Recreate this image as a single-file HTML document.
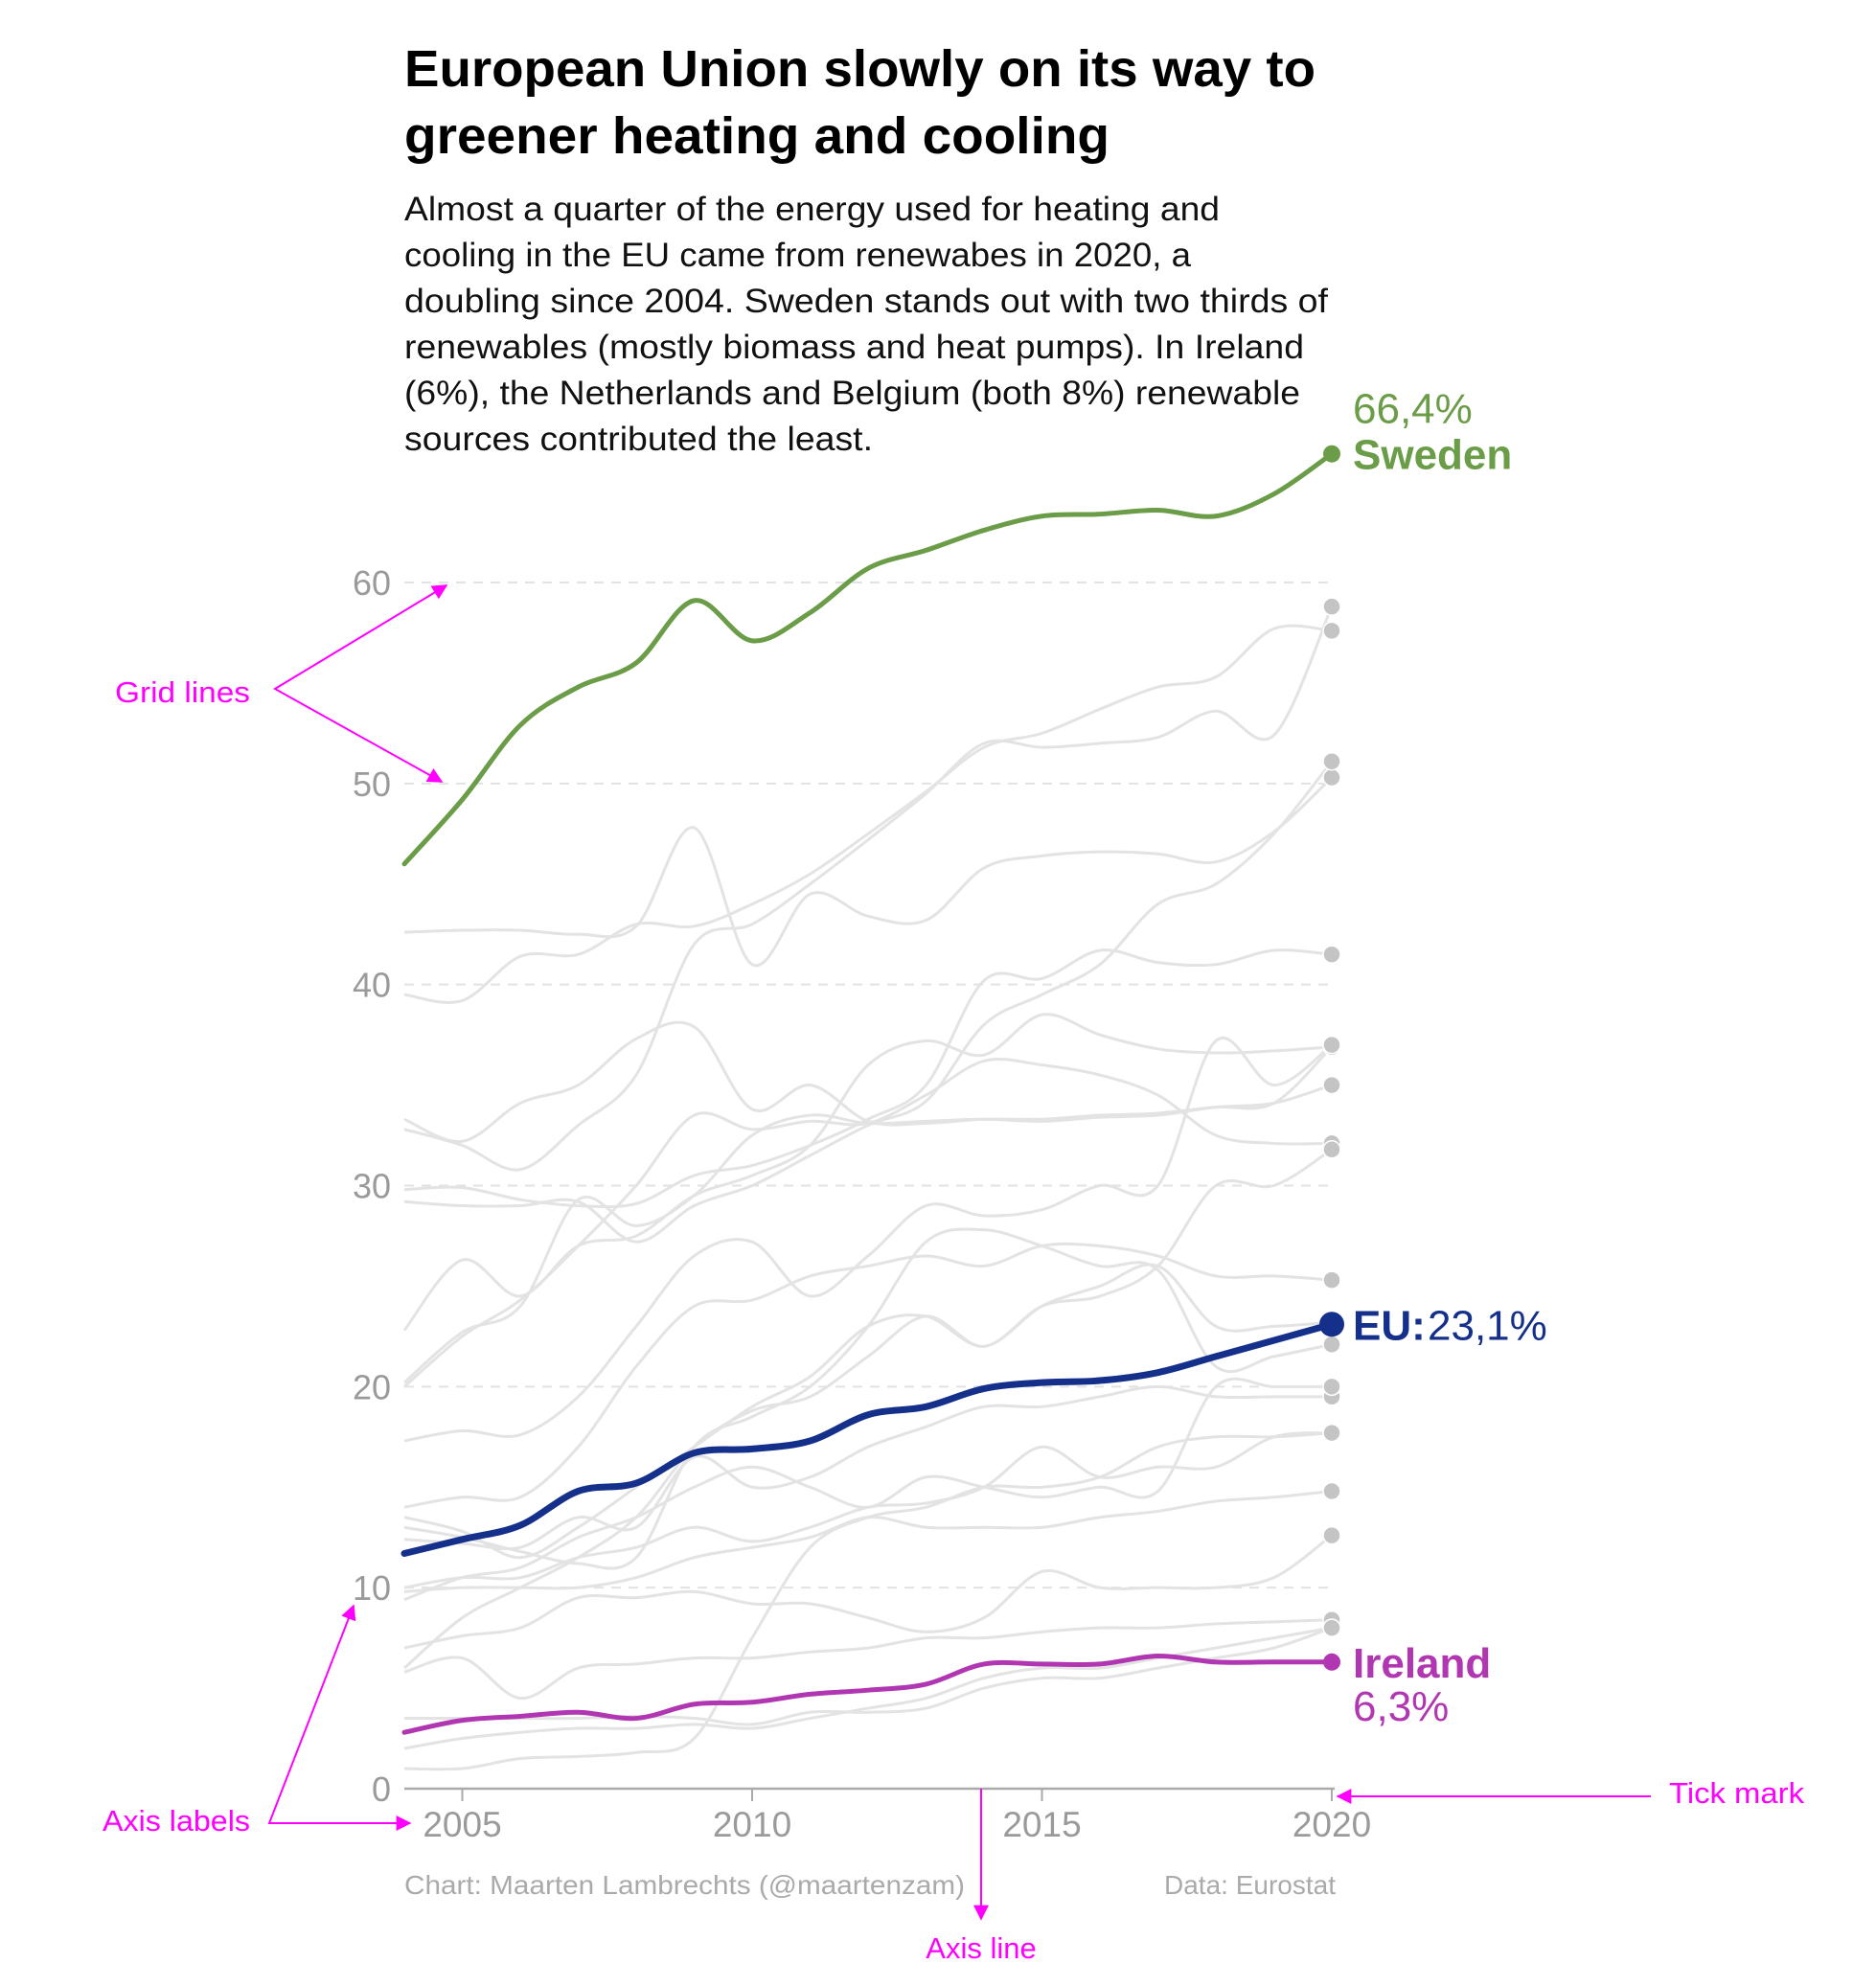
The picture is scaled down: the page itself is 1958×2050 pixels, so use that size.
<!DOCTYPE html>
<html><head><meta charset="utf-8">
<style>
html,body{margin:0;padding:0;background:#fff;}
svg{display:block;font-family:"Liberation Sans",sans-serif;}
</style></head>
<body>
<svg id="chart" width="1958" height="2050" viewBox="0 0 1958 2050">
<defs>
<marker id="ah" viewBox="0 0 10 10" refX="9" refY="5" markerWidth="8" markerHeight="8" orient="auto-start-reverse"><path d="M0,0L10,5L0,10z" fill="#ff00ff"/></marker>
</defs>
<g font-weight="bold" font-size="54" fill="#000">
<text x="422" y="90" textLength="951" lengthAdjust="spacingAndGlyphs">European Union slowly on its way to</text>
<text x="422" y="160" textLength="736" lengthAdjust="spacingAndGlyphs">greener heating and cooling</text>
</g>
<g font-size="35" fill="#111">
<text x="422" y="230" textLength="851" lengthAdjust="spacingAndGlyphs">Almost a quarter of the energy used for heating and</text>
<text x="422" y="278" textLength="821" lengthAdjust="spacingAndGlyphs">cooling in the EU came from renewabes in 2020, a</text>
<text x="422" y="326" textLength="964" lengthAdjust="spacingAndGlyphs">doubling since 2004. Sweden stands out with two thirds of</text>
<text x="422" y="374" textLength="939" lengthAdjust="spacingAndGlyphs">renewables (mostly biomass and heat pumps). In Ireland</text>
<text x="422" y="422" textLength="935" lengthAdjust="spacingAndGlyphs">(6%), the Netherlands and Belgium (both 8%) renewable</text>
<text x="422" y="470" textLength="489" lengthAdjust="spacingAndGlyphs">sources contributed the least.</text>
</g>
<g id="grid"></g>
<g id="axes"></g>
<g id="series"></g>
<g id="labels"></g>
<g font-size="28" fill="#aaa">
<text x="422" y="1977" textLength="585" lengthAdjust="spacingAndGlyphs">Chart: Maarten Lambrechts (@maartenzam)</text>
<text x="1394" y="1977" text-anchor="end">Data: Eurostat</text>
</g>
<g fill="#ff00ff" stroke="none" font-size="31">
<text x="120" y="733" textLength="141" lengthAdjust="spacingAndGlyphs">Grid lines</text>
<polyline points="466,611 287,719 461,816" fill="none" stroke="#ff00ff" stroke-width="2" marker-start="url(#ah)" marker-end="url(#ah)"/>
<text x="107" y="1911" textLength="154" lengthAdjust="spacingAndGlyphs">Axis labels</text>
<polyline points="369,1676 281,1903 428,1903" fill="none" stroke="#ff00ff" stroke-width="2" marker-start="url(#ah)" marker-end="url(#ah)"/>
<text x="1742" y="1882" textLength="141" lengthAdjust="spacingAndGlyphs">Tick mark</text>
<line x1="1723" y1="1875" x2="1396" y2="1875" stroke="#ff00ff" stroke-width="2" marker-end="url(#ah)"/>
<text x="1024" y="2044" text-anchor="middle">Axis line</text>
<line x1="1024" y1="1867" x2="1024" y2="2003" stroke="#ff00ff" stroke-width="2" marker-end="url(#ah)"/>
</g>
</svg>
<script>
const years = [2004,2005,2006,2007,2008,2009,2010,2011,2012,2013,2014,2015,2016,2017,2018,2019,2020];
const yTicks = [0,10,20,30,40,50,60];
const xTicks = [2005,2010,2015,2020];
const sweden = [46.0,49.2,52.9,54.8,56.0,59.1,57.1,58.5,60.7,61.6,62.6,63.3,63.4,63.6,63.3,64.4,66.4];
const eu = [11.7,12.4,13.1,14.8,15.2,16.7,16.9,17.3,18.6,19.0,19.9,20.2,20.3,20.7,21.5,22.3,23.1];
const ireland = [2.8,3.4,3.6,3.8,3.5,4.2,4.3,4.7,4.9,5.2,6.2,6.2,6.2,6.6,6.3,6.3,6.3];
const g1 = [42.6,42.7,42.7,42.5,42.9,47.8,41.0,44.5,43.4,43.2,45.8,46.4,46.6,46.5,46.1,47.6,50.3];
const g2 = [39.5,39.2,41.4,41.5,43.0,42.9,44.0,45.5,47.5,49.6,51.8,52.5,53.7,54.8,55.3,57.7,57.6];
const g3 = [33.3,32.2,34.1,35.0,37.3,37.9,33.8,35.0,33.2,33.1,33.3,33.3,33.5,33.6,33.9,34.1,36.9];
const g4 = [32.8,32.0,30.8,33.0,35.5,42.0,43.0,45.0,47.2,49.5,52.0,51.8,52.0,52.3,53.6,52.4,58.8];
const g5 = [29.8,29.9,29.3,29.0,29.1,30.5,31.0,32.0,33.3,35.0,40.2,40.3,41.7,41.1,41.0,41.7,41.5];
const g6 = [29.2,29.0,29.0,29.2,27.2,29.0,30.0,31.5,33.0,34.2,38.0,39.5,41.0,44.0,45.0,47.5,51.1];
const g7 = [22.8,26.3,24.5,27.0,27.5,29.5,30.5,32.0,36.0,37.2,36.5,38.5,37.5,36.8,36.6,36.7,36.9];
const g8 = [20.2,22.7,24.0,29.3,28.0,29.5,32.5,33.5,33.1,33.2,33.3,33.2,33.4,33.5,33.9,34.1,35.0];
const g9 = [20.0,22.5,24.3,27.0,30.0,33.5,32.8,33.2,33.1,34.5,36.2,36.0,35.5,34.5,32.5,32.1,32.1];
const g10 = [17.3,17.8,17.6,19.5,23.0,26.5,27.2,24.5,26.5,29.0,28.5,28.8,30.0,30.0,37.2,35.0,37.0];
const g11 = [14.0,14.5,14.5,17.0,21.0,24.0,24.3,25.5,26.0,26.5,26.0,27.0,27.0,26.5,25.5,25.5,25.3];
const g12 = [13.5,12.8,11.5,13.0,15.0,17.0,19.0,20.5,23.0,23.5,22.0,24.0,24.5,26.0,30.0,30.0,31.8];
const g13 = [13.0,12.5,11.8,11.2,11.5,17.0,18.5,20.0,23.0,27.2,27.8,27.0,26.0,25.8,21.0,21.5,22.1];
const g14 = [12.4,12.2,12.0,13.5,13.0,16.5,15.0,15.5,17.0,18.0,19.0,19.0,19.5,20.0,19.5,19.5,19.5];
const g15 = [10.0,10.5,10.5,11.5,12.0,13.0,12.3,13.0,14.0,14.2,15.0,17.0,15.5,16.0,16.0,17.5,17.7];
const g16 = [9.4,10.5,11.0,12.5,13.5,15.0,16.0,15.0,14.0,15.5,15.0,14.5,15.0,14.8,20.0,20.0,20.0];
const g17 = [9.8,10.0,10.0,10.0,10.5,11.5,12.0,12.5,13.5,13.0,13.0,13.0,13.5,13.8,14.3,14.5,14.8];
const g18 = [7.0,7.6,8.0,9.5,9.5,9.8,9.2,9.2,8.5,7.8,8.5,10.8,10.0,10.0,10.0,10.5,12.6];
const g19 = [6.0,8.5,10.0,11.5,13.5,17.0,18.8,19.5,21.5,23.5,22.0,24.0,25.0,26.0,23.0,23.0,23.2];
const g20 = [5.8,6.5,4.5,6.0,6.2,6.5,6.5,6.8,7.0,7.5,7.5,7.8,8.0,8.0,8.2,8.3,8.4];
const g21 = [3.5,3.5,3.5,3.5,3.6,3.5,3.2,3.8,3.8,4.0,5.0,5.5,5.5,6.0,6.5,7.0,8.0];
const g22 = [2.0,2.5,2.8,3.0,3.0,3.2,3.0,3.5,4.0,4.5,5.5,6.0,6.0,6.5,7.0,7.5,8.0];
const g23 = [1.0,1.0,1.5,1.6,1.8,2.5,7.5,12.0,13.5,14.0,15.0,15.0,15.5,17.0,17.5,17.5,17.7];
const grays = [g1,g2,g3,g4,g5,g6,g7,g8,g9,g10,g11,g12,g13,g14,g15,g16,g17,g18,g19,g20,g21,g22,g23];

const NS = "http://www.w3.org/2000/svg";
const x = yr => 422 + (yr - 2004) * (1390 - 422) / 16;
const y = v => 1867 - v * (1867 - 608) / 60;
function el(tag, attrs, parent){ const e = document.createElementNS(NS, tag); for (const k in attrs) e.setAttribute(k, attrs[k]); parent.appendChild(e); return e; }
function pathD(vals){
  const p = vals.map((v,i)=>[x(years[i]), y(v)]);
  let d = "M"+p[0][0]+","+p[0][1];
  for (let i=0;i<p.length-1;i++){
    const p0=p[i-1]||p[i], p1=p[i], p2=p[i+1], p3=p[i+2]||p2;
    const c1=[p1[0]+(p2[0]-p0[0])/6, p1[1]+(p2[1]-p0[1])/6];
    const c2=[p2[0]-(p3[0]-p1[0])/6, p2[1]-(p3[1]-p1[1])/6];
    d += " C"+c1[0]+","+c1[1]+" "+c2[0]+","+c2[1]+" "+p2[0]+","+p2[1];
  }
  return d;
}
const grid = document.getElementById('grid'), axes = document.getElementById('axes');
const series = document.getElementById('series'), labels = document.getElementById('labels');
yTicks.forEach(t=>{
  if (t>0){
    const l = el('line',{x1:422,x2:1390,y1:y(t),y2:y(t),stroke:'#e2e2e2','stroke-width':2,'stroke-dasharray':'10,8'},grid);
    
    
  }
  const tx = el('text',{x:408,y:y(t)+13,'text-anchor':'end','font-size':36,fill:'#9a9a9a'},axes);
  tx.textContent = t;
  
  
});
const ax = el('line',{x1:422,x2:1393,y1:1867,y2:1867,stroke:'#aaa','stroke-width':2.5},axes);


xTicks.forEach(t=>{
  const tk = el('line',{x1:x(t),x2:x(t),y1:1867,y2:1880,stroke:'#aaa','stroke-width':2},axes);
  
  
  const tx = el('text',{x:x(t),y:1917,'text-anchor':'middle','font-size':37,fill:'#9a9a9a'},axes);
  tx.textContent = t;
  
  
});
grays.forEach((g,i)=>{
  const p = el('path',{d:pathD(g),fill:'none',stroke:'#e3e3e3','stroke-width':3},series);
  
  
});
grays.forEach((g,i)=>{
  const c = el('circle',{cx:x(2020),cy:y(g[g.length-1]),r:9,fill:'#c4c4c4',stroke:'#fff','stroke-width':1.5},series);
  
  
});
function hl(vals,color,w,r,name){
  const p = el('path',{d:pathD(vals),fill:'none',stroke:color,'stroke-width':w,'stroke-linecap':'round'},series);
  
  
  const c = el('circle',{cx:x(2020),cy:y(vals[vals.length-1]),r:r,fill:color},series);
  
  
}
hl(ireland,'#b136b2',5,9,'ireland');
hl(eu,'#14308a',7,13,'eu');
hl(sweden,'#6b9c48',5,9,'sweden');
function lab(txt,xx,yy,col,bold,name){
  const t = el('text',{x:xx,y:yy,fill:col,'font-size':44,'font-weight':bold?'bold':'normal'},labels);
  t.textContent = txt;
  
  
  return t;
}
const ys = y(sweden[16]), ye = y(eu[16]), yi = y(ireland[16]);
lab(sweden[16].toFixed(1).replace('.',',')+'%',1412,ys-32,'#6b9c48',false,'sweden-value');
lab('Sweden',1412,ys+16,'#6b9c48',true,'sweden-label');
lab('EU:',1412,ye+16,'#14308a',true,'eu-label');
lab(eu[16].toFixed(1).replace('.',',')+'%',1490,ye+16,'#14308a',false,'eu-value');
lab('Ireland',1412,yi+16,'#b136b2',true,'ireland-label');
lab(ireland[16].toFixed(1).replace('.',',')+'%',1412,yi+61,'#b136b2',false,'ireland-value');
</script>
</body></html>
